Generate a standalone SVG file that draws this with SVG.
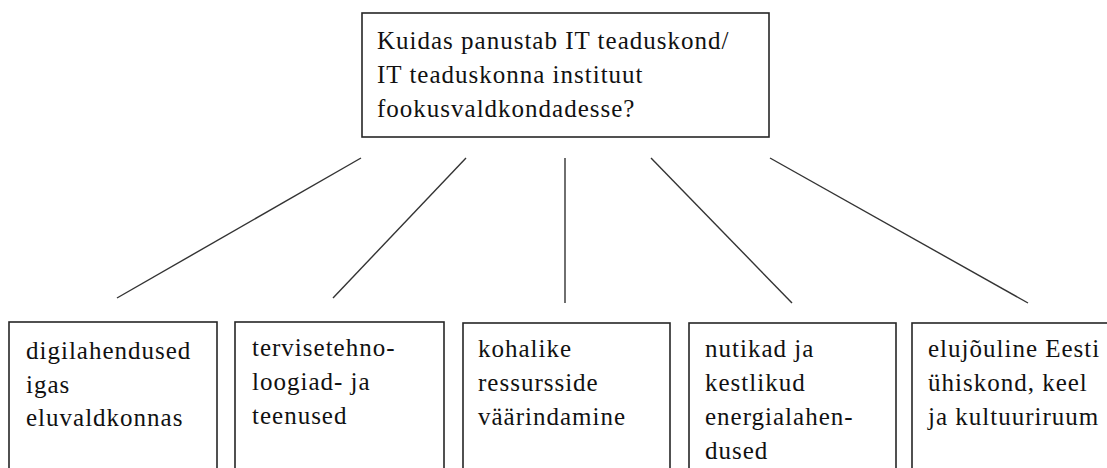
<svg xmlns="http://www.w3.org/2000/svg" width="1107" height="468" viewBox="0 0 1107 468">
<style>
.box{fill:#fff;stroke:#262626;stroke-width:1.6}
.ln{stroke:#333;stroke-width:1.4;fill:none}
</style>
<rect width="1107" height="468" fill="#fff"/>
<g id="connectors">
<line class="ln" x1="361" y1="158" x2="117" y2="298"/>
<line class="ln" x1="466" y1="158" x2="333" y2="298"/>
<line class="ln" x1="565" y1="158" x2="565" y2="303"/>
<line class="ln" x1="651" y1="158" x2="792" y2="303"/>
<line class="ln" x1="770" y1="158" x2="1028" y2="303"/>
</g>
<g font-family="Liberation Serif, Tinos, Times New Roman, Times, serif" font-size="25" letter-spacing="1" fill="#111">
<g id="root">
<rect class="box" x="362" y="13" width="407" height="124"/>
<text x="377" y="49">Kuidas panustab IT teaduskond/</text>
<text x="377" y="83">IT teaduskonna instituut</text>
<text x="377" y="117">fookusvaldkondadesse?</text>
</g>
<g id="n1">
<rect class="box" x="9" y="322" width="208" height="170"/>
<text x="26" y="359">digilahendused</text>
<text x="26" y="393">igas</text>
<text x="26" y="426">eluvaldkonnas</text>
</g>
<g id="n2">
<rect class="box" x="235" y="322" width="209" height="170"/>
<text x="252" y="356">tervisetehno-</text>
<text x="252" y="390">loogiad- ja</text>
<text x="252" y="424">teenused</text>
</g>
<g id="n3">
<rect class="box" x="463" y="323" width="207" height="170"/>
<text x="478" y="357">kohalike</text>
<text x="478" y="391">ressursside</text>
<text x="478" y="425">väärindamine</text>
</g>
<g id="n4">
<rect class="box" x="689" y="323" width="207" height="170"/>
<text x="705" y="357">nutikad ja</text>
<text x="705" y="391">kestlikud</text>
<text x="705" y="425">energialahen-</text>
<text x="705" y="459">dused</text>
</g>
<g id="n5">
<rect class="box" x="912" y="323" width="210" height="170"/>
<text x="928" y="357">elujõuline Eesti</text>
<text x="928" y="391">ühiskond, keel</text>
<text x="928" y="425">ja kultuuriruum</text>
</g>
</g>
</svg>
